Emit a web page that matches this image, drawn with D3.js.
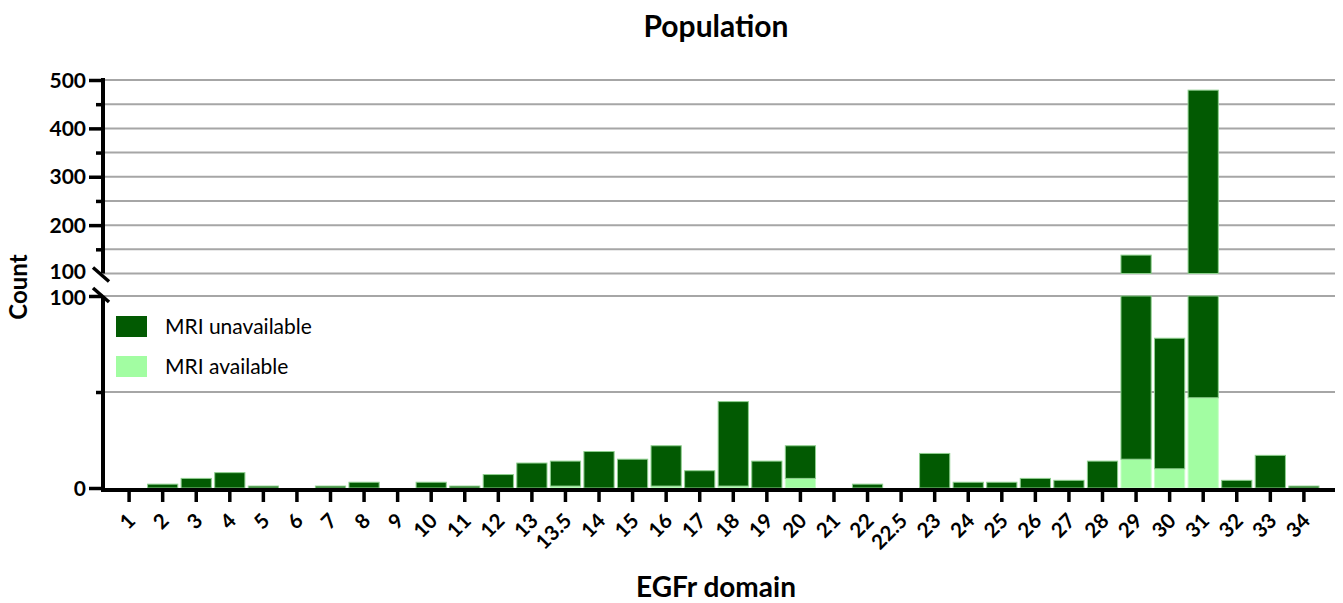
<!DOCTYPE html>
<html>
<head>
<meta charset="utf-8">
<script src="https://cdn.jsdelivr.net/npm/d3@7"></script>
<style>
  body { margin: 0; background: #fff; }
  svg { display: block; }
  text { font-family: Lato, "Open Sans", sans-serif; }
</style>
</head>
<body>
<svg id="chart" width="1343" height="603"></svg>
<script>
const categories = ["1","2","3","4","5","6","7","8","9","10","11","12","13","13.5","14","15","16","17","18","19","20","21","22","22.5","23","24","25","26","27","28","29","30","31","32","33","34"];
const mriAvailable   = [0,0,0,0,0,0,0,0,0,0,0,0,0,1,0,0,1,0,1,0,5,0,0,0,0,0,0,0,0,0,15,10,47,0,0,0];
const mriUnavailable = [0,2,5,8,1,0,1,3,0,3,1,7,13,13,19,15,21,9,44,14,17,0,2,0,18,3,3,5,4,14,123,68,432,4,17,1];
const seriesNames = ["MRI available", "MRI unavailable"];
const lowTicks = [0, 50, 100];
const lowTickLabels = ["0", "", "100"];
const highTicks = [100, 150, 200, 250, 300, 350, 400, 450, 500];
const highTickLabels = ["100", "", "200", "", "300", "", "400", "", "500"];

const darkGreen = "#025a02";
const lightGreen = "#a2fda2";
const gridColor = "#a6a6a6";

const svg = d3.select("#chart");
const axisX0 = 103, axisX1 = 1335;

const x = d3.scaleBand().domain(categories).range([114, 1319]).paddingInner(0.1).paddingOuter(0);
const yLow = d3.scaleLinear().domain([0, 100]).range([488, 296]);
const yHigh = d3.scaleLinear().domain([100, 500]).range([273.5, 80]);

const rows = categories.map((c, i) => ({cat: c, avail: mriAvailable[i], unavail: mriUnavailable[i]}));
const stack = d3.stack().keys(["avail", "unavail"]);
const stacked = stack(rows);
const colors = {avail: lightGreen, unavail: darkGreen};
const strokes = {avail: "#c8ffc8", unavail: "#8fcf8f"};

// gridlines
const grid = svg.append("g");
grid.selectAll("line.hg").data(highTicks).join("line")
  .attr("x1", axisX0).attr("x2", axisX1)
  .attr("y1", d => yHigh(d)).attr("y2", d => yHigh(d))
  .attr("stroke", gridColor).attr("stroke-width", 2);
grid.selectAll("line.lg").data(lowTicks.filter(d => d > 0)).join("line")
  .attr("x1", axisX0).attr("x2", axisX1)
  .attr("y1", d => yLow(d)).attr("y2", d => yLow(d))
  .attr("stroke", gridColor).attr("stroke-width", 2);

// bars
const bars = svg.append("g");
stacked.forEach(layer => {
  const key = layer.key;
  layer.forEach((seg, i) => {
    const [d0, d1] = seg;
    if (d1 <= d0) return;
    const cx = x(categories[i]);
    if (d0 < 100) {
      const top = yLow(Math.min(d1, 100)), bot = yLow(d0);
      bars.append("rect")
        .attr("x", cx).attr("width", x.bandwidth())
        .attr("y", top).attr("height", Math.max(0, bot - top))
        .attr("fill", colors[key]).attr("stroke", strokes[key]).attr("stroke-width", 1);
    }
    if (d1 > 100) {
      const top = yHigh(d1), bot = yHigh(Math.max(d0, 100));
      bars.append("rect")
        .attr("x", cx).attr("width", x.bandwidth())
        .attr("y", top).attr("height", Math.max(0, bot - top))
        .attr("fill", colors[key]).attr("stroke", strokes[key]).attr("stroke-width", 1);
    }
  });
});

// x axis
const xAxis = d3.axisBottom(x).tickSize(12).tickSizeOuter(0);
const gx = svg.append("g").attr("transform", `translate(0,490)`).call(xAxis);
gx.select(".domain").remove();
gx.append("line").attr("x1", axisX0 - 2).attr("x2", axisX1).attr("y1", 0).attr("y2", 0)
  .attr("stroke", "#000").attr("stroke-width", 4);
gx.selectAll(".tick line").attr("stroke", "#000").attr("stroke-width", 3.5);
gx.selectAll(".tick text")
  .attr("font-size", 20.5).attr("font-weight", "bold").attr("fill", "#000")
  .attr("text-anchor", "end")
  .attr("x", 0).attr("y", 0).attr("dy", "0.35em")
  .attr("transform", "translate(2.5,27) rotate(-45)");

// y axis lower
const yAxisLow = d3.axisLeft(yLow).tickValues(lowTicks).tickFormat((d, i) => lowTickLabels[i]).tickSizeOuter(0);
const gyl = svg.append("g").attr("transform", `translate(${axisX0},0)`).call(yAxisLow);
gyl.select(".domain").remove();
gyl.append("line").attr("x1", 0).attr("x2", 0).attr("y1", 296).attr("y2", 492)
  .attr("stroke", "#000").attr("stroke-width", 4);
gyl.selectAll(".tick line").attr("x2", d => d === 50 ? -7 : -14).attr("stroke", "#000").attr("stroke-width", 3.5);
gyl.selectAll(".tick text").attr("x", -17).attr("font-size", 21).attr("font-weight", "bold").attr("fill", "#000")
  .attr("dy", d => d === 100 ? "0.42em" : "0.34em");

// y axis upper
const yAxisHigh = d3.axisLeft(yHigh).tickValues(highTicks).tickFormat((d, i) => highTickLabels[i]).tickSizeOuter(0);
const gyh = svg.append("g").attr("transform", `translate(${axisX0},0)`).call(yAxisHigh);
gyh.select(".domain").remove();
gyh.append("line").attr("x1", 0).attr("x2", 0).attr("y1", 78).attr("y2", 273.5)
  .attr("stroke", "#000").attr("stroke-width", 4);
gyh.selectAll(".tick line").attr("x2", d => (d % 100 === 50) ? -7 : -14).attr("stroke", "#000").attr("stroke-width", 3.5)
  .attr("display", d => d === 100 ? "none" : null);
gyh.selectAll(".tick text").attr("x", -17).attr("font-size", 21).attr("font-weight", "bold").attr("fill", "#000")
  .attr("dy", d => d === 100 ? "0.22em" : "0.34em");

// break marks
const brk = svg.append("g").attr("stroke", "#000").attr("stroke-width", 3.5);
brk.append("line").attr("x1", axisX0 - 10).attr("y1", yHigh(100) - 6).attr("x2", axisX0 + 6).attr("y2", yHigh(100) + 8);
brk.append("line").attr("x1", axisX0 - 10).attr("y1", yLow(100) - 8).attr("x2", axisX0 + 6).attr("y2", yLow(100) + 6);

// titles
svg.append("text").attr("x", 716).attr("y", 37).attr("text-anchor", "middle")
  .attr("font-size", 30).attr("font-weight", "bold").text("Population");
svg.append("text").attr("x", 716).attr("y", 597).attr("text-anchor", "middle")
  .attr("font-size", 28).attr("font-weight", "bold").text("EGFr domain");
svg.append("text").attr("transform", "translate(27,287) rotate(-90)").attr("text-anchor", "middle")
  .attr("font-size", 24).attr("font-weight", "bold").text("Count");

// legend
const legendItems = [{name: seriesNames[1], color: darkGreen}, {name: seriesNames[0], color: lightGreen}];
const lg = svg.append("g");
legendItems.forEach((it, i) => {
  const yy = 316 + i * 40;
  lg.append("rect").attr("x", 116).attr("y", yy).attr("width", 31).attr("height", 21).attr("fill", it.color);
  lg.append("text").attr("x", 165).attr("y", yy + 11).attr("dy", "0.35em")
    .attr("font-size", 21).attr("fill", "#000").text(it.name);
});
</script>
</body>
</html>
